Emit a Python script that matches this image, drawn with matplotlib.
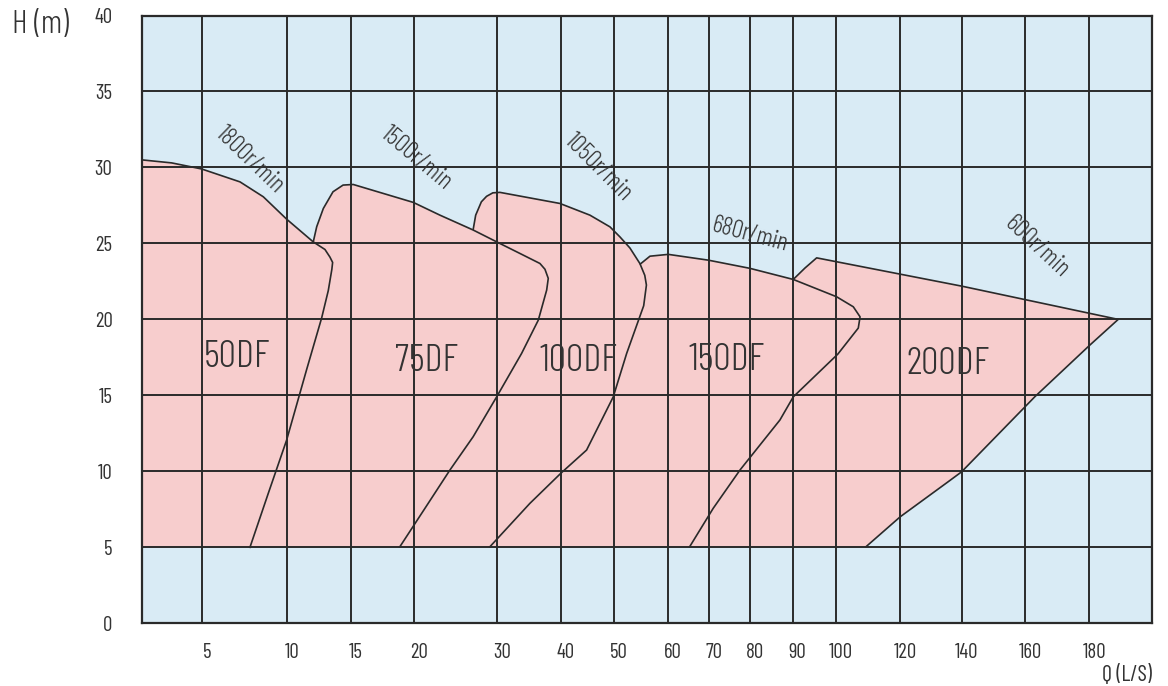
import numpy as np
import matplotlib
matplotlib.use("Agg")
import matplotlib.pyplot as plt
from matplotlib.transforms import ScaledTranslation

# ---------------- data ----------------
q_ticks = [5, 10, 15, 20, 30, 40, 50, 60, 70, 80, 90, 100, 120, 140, 160, 180]
h_ticks = [0, 5, 10, 15, 20, 25, 30, 35, 40]
q_lim = (2, 200)
h_lim = (0, 40)
h_floor = 5  # lower limit of the operating area

pump_names = ["50DF", "75DF", "100DF", "150DF", "200DF"]
speed_names = ["1800r/min", "1500r/min", "1050r/min", "680r/min", "600r/min"]

# outline of each pump field: head curve, then the right-hand limit down to H = 5
q_50df = [2, 3.5, 5, 7.24, 8.6, 9.96, 12.04, 12.96, 13.35, 13.56, 13.5, 13.22, 12.7, 11.52, 9.96, 8.89, 7.82]
h_50df = [30.5, 30.3, 29.9, 29.05, 28.07, 26.6, 25.1, 24.6, 24.1, 23.75, 23.3, 21.9, 20.1, 16.7, 12.05, 8.55, 5.0]

q_75df = [12.04, 12.31, 12.83, 13.59, 14.38, 15.18, 19.97, 23.14, 27.11, 30.13, 33.54, 36.69, 37.48, 38.0,
          37.75, 36.43, 33.8, 29.9, 27.1, 24.33, 21.35, 18.9]
h_75df = [25.1, 26.1, 27.3, 28.4, 28.84, 28.88, 27.7, 26.86, 25.88, 25.05, 24.34, 23.68, 23.3, 22.7,
          21.93, 19.95, 17.76, 14.9, 12.28, 10.09, 7.57, 5.04]

q_100df = [27.11, 27.4, 28.08, 28.7, 29.45, 30.39, 39.84, 45.5, 49.3, 51.15, 52.98, 54.8, 55.7, 56.0,
           55.5, 52.38, 49.92, 44.86, 39.97, 35.1, 29.1]
h_100df = [25.94, 26.86, 27.74, 28.1, 28.33, 28.36, 27.63, 26.86, 26.09, 25.43, 24.7, 23.68, 22.9, 22.26,
           20.9, 17.76, 14.9, 11.4, 9.87, 7.89, 5.04]

q_150df = [54.9, 56.65, 60.0, 69.9, 79.93, 90.14, 100.2, 105.4, 107.5, 106.95, 100.6, 90.14, 87.0, 77.54, 71.1, 65.3]
h_150df = [23.65, 24.16, 24.28, 23.9, 23.36, 22.63, 21.49, 20.83, 20.17, 19.43, 17.72, 14.9, 13.38, 10.09, 7.57, 5.04]

q_200df = [90.14, 92.84, 95.54, 139.9, 189.2, 180.2, 163.0, 139.9, 135.56, 119.99, 109.35]
h_200df = [22.63, 23.38, 24.05, 22.19, 20.0, 18.31, 14.91, 9.97, 9.32, 7.01, 5.04]

# text anchors (data units)
pump_label_q = [7.09, 21.55, 43.29, 74.23, 135.55]
pump_label_h = [17.49, 17.21, 17.21, 17.27, 17.0]
speed_label_q = [7.82, 20.34, 47.08, 79.9, 163.6]
speed_label_h = [30.48, 30.6, 29.99, 25.6, 24.78]

# ---------------- non-uniform Q axis (layout of the printed grid) ----------------
axis_q = [2, 5, 10, 15, 20, 30, 40, 50, 60, 70, 80, 90, 100, 120, 140, 160, 180, 200]
axis_pos = [0, 60, 145.6, 209.3, 272, 355.8, 419.3, 472, 526.6, 567, 608.6, 651, 694.3,
            758.6, 820.3, 883.6, 947.6, 1010.6]


def q_forward(q):
    return np.interp(q, axis_q, axis_pos)


def q_inverse(p):
    return np.interp(p, axis_pos, axis_q)


# ---------------- figure ----------------
BLUE = "#D9EBF5"
PINK = "#F7CDCD"
LINE = "#2a2a2a"
TXT = "#333333"
COND = ["Barlow Condensed", "Roboto Condensed", "PT Sans Narrow", "DejaVu Sans"]

fig = plt.figure(figsize=(11.68, 6.86), dpi=100)
fig.patch.set_facecolor("white")
ax = fig.add_axes([0.1213, 0.0914, 0.8652, 0.8860])
ax.set_facecolor(BLUE)
ax.set_xscale("function", functions=(q_forward, q_inverse))
ax.set_xlim(*q_lim)
ax.set_ylim(*h_lim)

outlines = [(q_50df, h_50df), (q_75df, h_75df), (q_100df, h_100df),
            (q_150df, h_150df), (q_200df, h_200df)]

# envelope of the whole operating area
env_q, env_h = [], []
for i, (q, h) in enumerate(outlines):
    q = np.asarray(q, float)
    h = np.asarray(h, float)
    if i < len(outlines) - 1:
        k = int(np.argmax(q >= outlines[i + 1][0][0]))
        env_q += list(q[:k])
        env_h += list(h[:k])
    else:
        env_q += list(q)
        env_h += list(h)
env_q += [q_lim[0]]
env_h += [h_floor]
ax.fill(env_q, env_h, facecolor=PINK, edgecolor="none", zorder=1)

for q, h in outlines:
    ax.plot(q, h, color=LINE, lw=1.2, zorder=3, solid_joinstyle="round")

# grid
ax.set_xticks(q_ticks)
ax.set_yticks(h_ticks)
ax.grid(True, color=LINE, lw=1.4, zorder=2)
ax.set_axisbelow(False)
for sp in ax.spines.values():
    sp.set_color(LINE)
    sp.set_linewidth(1.6)
    sp.set_zorder(4)

ax.tick_params(axis="both", length=0, colors=TXT, labelsize=15)
ax.tick_params(axis="x", pad=14)
ax.tick_params(axis="y", pad=21)
ax.set_xticklabels([str(v) for v in q_ticks], family=COND)
ax.set_yticklabels([str(v) for v in h_ticks], family=COND)
shift = ScaledTranslation(0.05, 0, fig.dpi_scale_trans)
for lab in ax.get_xticklabels():
    lab.set_transform(lab.get_transform() + shift)

# labels
for name, q, h in zip(pump_names, pump_label_q, pump_label_h):
    ax.text(q, h, name, ha="center", va="center", fontsize=28, color=TXT,
            family=COND, fontweight=300, zorder=5)

speed_rot = [-44, -40, -45, -15, -43]
for name, q, h, r in zip(speed_names, speed_label_q, speed_label_h, speed_rot):
    ax.text(q, h, name, ha="center", va="center", fontsize=18, color=TXT,
            family=COND, fontweight=300, rotation=r, rotation_mode="anchor", zorder=5)

fig.text(0.010, 0.9636, "H (m)", ha="left", va="center", fontsize=24, color=TXT,
         family=COND, fontweight=300)
fig.text(0.986, 0.016, "Q (L/S)", ha="right", va="center", fontsize=16, color=TXT, family=COND)

fig.savefig("out.png", dpi=100, facecolor="white")
